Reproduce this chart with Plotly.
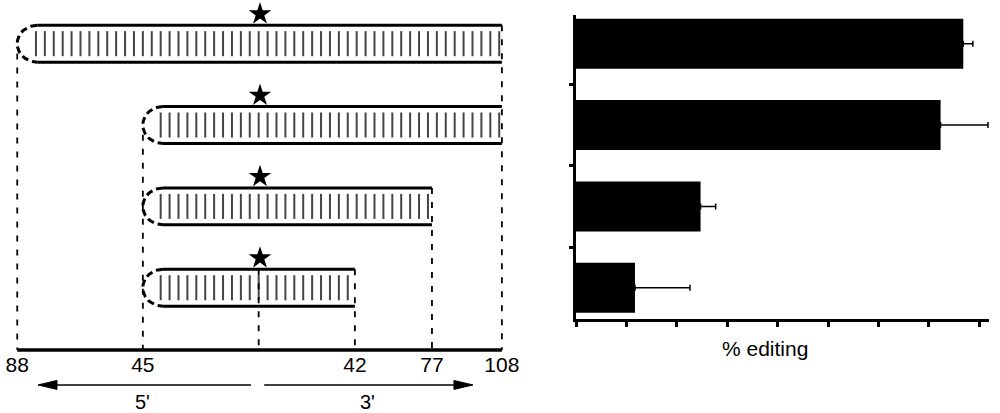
import numpy as np
import plotly.graph_objects as go

# right panel: % editing for each construct (top to bottom)
constructs = [0, 1, 2, 3]
editing_pct = [76.8, 72.3, 24.7, 11.7]
editing_err = [1.9, 9.4, 3.0, 10.9]
pct_ticks = [0, 10, 20, 30, 40, 50, 60, 70, 80]

# left panel: hairpin constructs, in base pairs from the centre of the stem
loop_tip = [-27.1, -13.0, -13.0, -13.0]
arm_end = [27.3, 27.3, 19.45, 10.8]
edited_site = 0.15
centre_pos = 0.0
ruler_pos = [-27.1, -13.0, 10.8, 19.45, 27.3]
ruler_text = ["88", "45", "42", "77", "108"]

FONT = "Liberation Sans, Arial, Helvetica, sans-serif"
STRAND = 0.227   # half height of a hairpin (row units)
RUNG = 0.154
LOOP_W = 2.25    # loop depth (bp units)
AXIS_ROW = 3.765
ARROW_ROW = 4.195
LABEL_ROW = 4.404


def hairpin_paths():
    """Strands, base-pair rungs and dashed loops for every construct."""
    strands = ([], [])
    rungs = ([], [])
    loops = ([], [])
    theta = np.linspace(-np.pi / 2, np.pi / 2, 40)
    for r, tip, end in zip(constructs, loop_tip, arm_end):
        start = tip + LOOP_W
        strands[0].extend([start, end, None, start, end, None])
        strands[1].extend([r - STRAND, r - STRAND, None, r + STRAND, r + STRAND, None])
        for u in range(int(np.ceil(tip + 1.9)), int(np.floor(end - 0.2)) + 1):
            rungs[0].extend([u, u, None])
            rungs[1].extend([r - RUNG, r + RUNG, None])
        loops[0].extend(list(start - LOOP_W * np.cos(theta)) + [None])
        loops[1].extend(list(r + STRAND * np.sin(theta)) + [None])
    return strands, rungs, loops


def drop_lines():
    """Dashed guides from each construct boundary down to the ruler."""
    xs, ys = [], []
    for pos in ruler_pos:
        top = None
        for r, tip, end in zip(constructs, loop_tip, arm_end):
            if tip == pos:
                top = r + 0.12
            elif end == pos:
                top = r - STRAND
            if top is not None:
                break
        xs.extend([pos, pos, None])
        ys.extend([top, AXIS_ROW, None])
    xs.extend([centre_pos, centre_pos, None])
    ys.extend([constructs[-1] - STRAND, AXIS_ROW, None])
    return xs, ys


fig = go.Figure()

strands, rungs, loops = hairpin_paths()
fig.add_trace(go.Scatter(x=rungs[0], y=rungs[1], mode="lines", xaxis="x2", yaxis="y2",
                         line=dict(color="#444444", width=2)))
fig.add_trace(go.Scatter(x=strands[0], y=strands[1], mode="lines", xaxis="x2", yaxis="y2",
                         line=dict(color="black", width=3)))
fig.add_trace(go.Scatter(x=loops[0], y=loops[1], mode="lines", xaxis="x2", yaxis="y2",
                         line=dict(color="black", width=3, dash="7px,4px")))

dx, dy = drop_lines()
fig.add_trace(go.Scatter(x=dx, y=dy, mode="lines", xaxis="x2", yaxis="y2",
                         line=dict(color="black", width=1.8, dash="6px,8px")))

# ruler
fig.add_trace(go.Scatter(x=[ruler_pos[0], ruler_pos[-1]], y=[AXIS_ROW, AXIS_ROW], mode="lines",
                         xaxis="x2", yaxis="y2", line=dict(color="black", width=3.5)))

# edited adenosine
fig.add_trace(go.Scatter(x=[edited_site] * len(constructs), y=[r - 0.365 for r in constructs],
                         mode="markers", xaxis="x2", yaxis="y2",
                         marker=dict(symbol="star", size=17, color="black", line=dict(width=0))))

# 5' / 3' arrows
HEAD_L, HEAD_H = 2.13, 0.055
arrows = [(-0.87, -24.77), (0.62, 24.05)]
for tail, tip in arrows:
    sgn = 1 if tip > tail else -1
    base = tip - sgn * HEAD_L
    fig.add_trace(go.Scatter(x=[tail, base], y=[ARROW_ROW, ARROW_ROW], mode="lines",
                             xaxis="x2", yaxis="y2", line=dict(color="black", width=1.5)))
    fig.add_trace(go.Scatter(x=[tip, base, base, tip], y=[ARROW_ROW, ARROW_ROW - HEAD_H, ARROW_ROW + HEAD_H, ARROW_ROW],
                             mode="lines", fill="toself", fillcolor="black", xaxis="x2", yaxis="y2",
                             line=dict(color="black", width=1)))

for label, pos in [("5'", -13.08), ("3'", 12.27)]:
    fig.add_annotation(x=pos, y=LABEL_ROW, xref="x2", yref="y2", text=label, showarrow=False,
                       font=dict(family=FONT, size=20, color="black"))

# bar chart
fig.add_trace(go.Bar(
    x=editing_pct,
    y=constructs,
    orientation="h",
    width=0.615,
    marker=dict(color="black", line=dict(width=0)),
    error_x=dict(type="data", array=editing_err, arrayminus=[0] * len(editing_err), symmetric=False,
                 color="black", thickness=1.5, width=3),
))

fig.add_annotation(x=0.765, y=0.157, xref="paper", yref="paper", xanchor="center", yanchor="middle",
                   text="% editing", showarrow=False, font=dict(family=FONT, size=21, color="black"))

fig.update_layout(
    width=1000,
    height=413,
    margin=dict(l=0, r=0, t=0, b=0),
    paper_bgcolor="white",
    plot_bgcolor="white",
    showlegend=False,
    font=dict(family=FONT, color="black"),
    xaxis=dict(domain=[0.576, 0.989], range=[0, 81.9], anchor="y", showline=True, linewidth=3,
               linecolor="black", ticks="outside", tickvals=pct_ticks, ticklen=5, tickwidth=3,
               tickcolor="black", showticklabels=False, showgrid=False, zeroline=False),
    yaxis=dict(domain=[0.2276, 0.9637], range=[3.384, -0.353], anchor="x", showline=True, linewidth=3,
               linecolor="black", ticks="outside", tickvals=[0.5, 1.5, 2.5], ticklen=4, tickwidth=3,
               tickcolor="black", showticklabels=False, showgrid=False, zeroline=False),
    xaxis2=dict(domain=[0, 0.55], range=[-29.035, 32.70], anchor="free", position=0.1525,
                showline=False, showgrid=False, zeroline=False, ticks="", tickvals=ruler_pos,
                ticktext=ruler_text, tickfont=dict(family=FONT, size=21, color="black")),
    yaxis2=dict(domain=[0, 1], range=[4.540, -0.537], anchor="x2", visible=False),
)

# the page's default body margin would push the figure 8px right and down
fig.write_html("out.html", config={"displayModeBar": False},
               post_script="document.body.style.margin='0';document.body.style.overflow='hidden';")
